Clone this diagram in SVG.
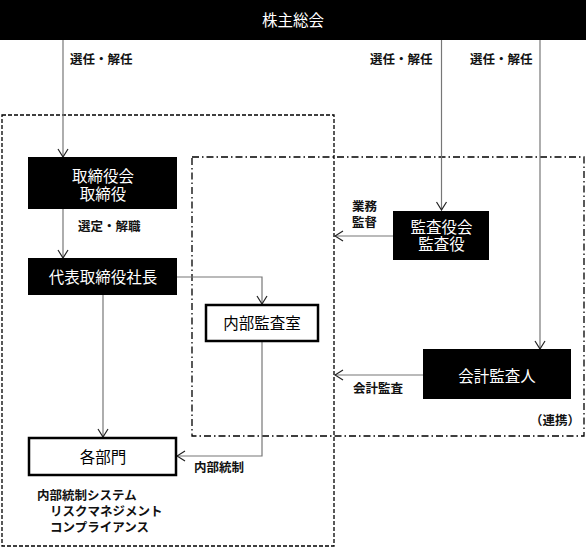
<svg xmlns="http://www.w3.org/2000/svg" width="586" height="548" viewBox="0 0 586 548">
<style>
text{font-family:"Noto Sans CJK JP","Noto Sans CJK SC",sans-serif;}
.t{font-size:15.5px;fill:#fff;text-anchor:middle;}
.tb{font-size:15.5px;fill:#000;text-anchor:middle;}
.lb{font-size:12.5px;font-weight:700;fill:#111;}
.blk{fill:#000;}
.wht{fill:#fff;stroke:#000;stroke-width:2.5;}
.ln{fill:none;stroke:#777;stroke-width:1.2;}
.dash{fill:none;stroke:#000;stroke-width:1.3;stroke-dasharray:4 2;}
.dd{fill:none;stroke:#000;stroke-width:1.3;stroke-dasharray:7 3 1.5 3;}
</style>
<defs>
<marker id="arr" markerUnits="userSpaceOnUse" viewBox="0 0 10 12" refX="9" refY="6" markerWidth="10" markerHeight="12" orient="auto">
<path d="M1,1 L9,6 L1,11" fill="none" stroke="#222" stroke-width="1.2"/>
</marker>
</defs>
<g id="boundaries">
<rect class="dash" x="2" y="115" width="332" height="431"/>
<rect class="dd" x="192" y="157" width="392" height="279"/>
</g>
<g id="connectors">
<line class="ln" x1="63" y1="40" x2="63" y2="157" marker-end="url(#arr)"/>
<line class="ln" x1="441.5" y1="40" x2="441.5" y2="210" marker-end="url(#arr)"/>
<line class="ln" x1="540" y1="40" x2="540" y2="349" marker-end="url(#arr)"/>
<line class="ln" x1="63" y1="209" x2="63" y2="258" marker-end="url(#arr)"/>
<polyline class="ln" points="177,277 262,277 262,304" marker-end="url(#arr)"/>
<line class="ln" x1="103" y1="295" x2="103" y2="437" marker-end="url(#arr)"/>
<polyline class="ln" points="262,342 262,456 177,456" marker-end="url(#arr)"/>
<line class="ln" x1="393" y1="236" x2="335" y2="236" marker-end="url(#arr)"/>
<line class="ln" x1="423" y1="375" x2="335" y2="375" marker-end="url(#arr)"/>
</g>
<g id="labels">
<text class="lb" x="70" y="63.5">選任・解任</text>
<text class="lb" x="370" y="63.5">選任・解任</text>
<text class="lb" x="470" y="63.5">選任・解任</text>
<text class="lb" x="78" y="230.5">選定・解職</text>
<text class="lb"><tspan x="352" y="210.5">業務</tspan><tspan x="352" y="226.5">監督</tspan></text>
<text class="lb" x="353" y="392.5">会計監査</text>
<text class="lb" x="530" y="424.5">（連携）</text>
<text class="lb" x="194" y="471.5">内部統制</text>
<text class="lb"><tspan x="37" y="499.5">内部統制システム</tspan><tspan x="50" y="515.5">リスクマネジメント</tspan><tspan x="50" y="531.5">コンプライアンス</tspan></text>
</g>
<g id="shareholders">
<rect class="blk" x="0" y="0" width="586" height="40"/>
<text class="t" x="293" y="26">株主総会</text>
</g>
<g id="board">
<rect class="blk" x="28" y="157" width="149" height="52"/>
<text class="t"><tspan x="103" y="181.5">取締役会</tspan><tspan x="103" y="199.5">取締役</tspan></text>
</g>
<g id="president">
<rect class="blk" x="28" y="258" width="149" height="37"/>
<text class="t" x="103" y="283">代表取締役社長</text>
</g>
<g id="internal-audit">
<rect class="wht" x="206" y="305" width="112" height="36"/>
<text class="tb" x="262" y="328.5">内部監査室</text>
</g>
<g id="departments">
<rect class="wht" x="29" y="438" width="147" height="37"/>
<text class="tb" x="103" y="462.5">各部門</text>
</g>
<g id="auditors">
<rect class="blk" x="393" y="211" width="96" height="49"/>
<text class="t"><tspan x="441.5" y="232.5">監査役会</tspan><tspan x="441.5" y="249.5">監査役</tspan></text>
</g>
<g id="accounting-auditor">
<rect class="blk" x="423" y="349" width="148" height="50"/>
<text class="t" x="497" y="381.5">会計監査人</text>
</g>
</svg>
